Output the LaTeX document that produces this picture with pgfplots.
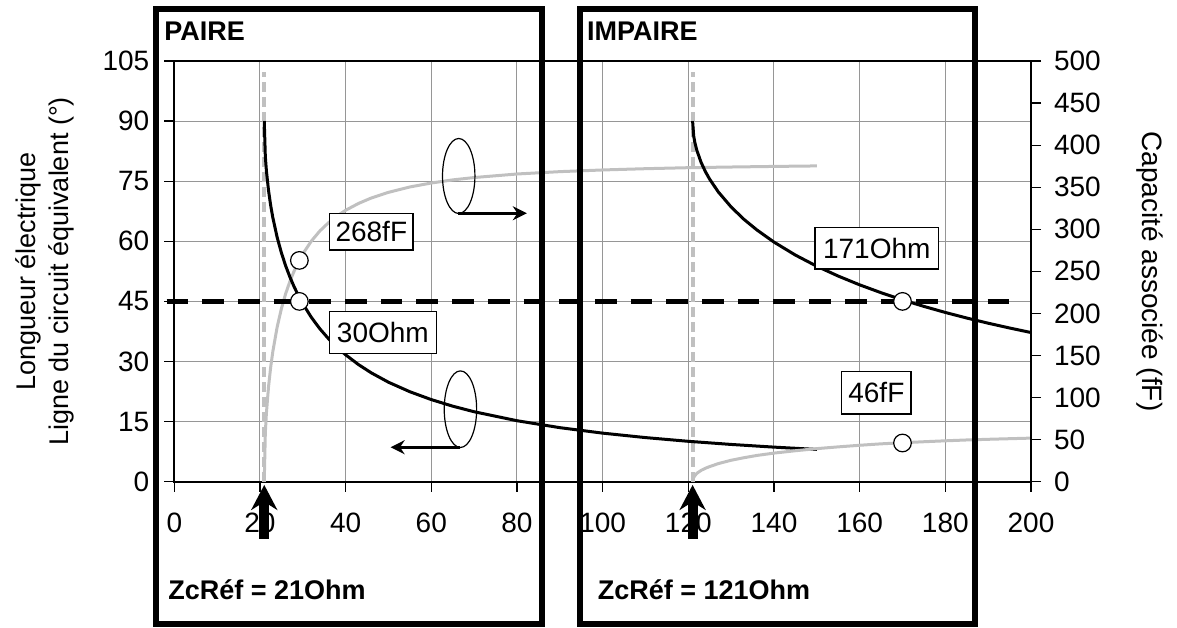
\documentclass[border=0pt]{standalone}
\usepackage{pgfplots}
\pgfplotsset{compat=1.18}
\usepackage{pgfplotstable}
\usepackage{fontspec}
\setmainfont{Liberation Sans}
\usetikzlibrary{arrows.meta}
\definecolor{lgray}{RGB}{192,192,192}
\definecolor{ggrid}{RGB}{150,150,150}

\pgfplotstableread{
Zc theta C
21 90 0
21.25 81.20 58.0
21.5 77.62 81.3
22 72.66 113.0
22.5 68.96 136.1
23 65.93 154.6
24 61.04 183.5
25 57.14 205.6
26 53.87 223.5
27 51.06 238.2
28 48.59 250.7
29 46.40 261.4
30 44.43 270.7
32 41.01 286.0
34 38.14 298.1
36 35.69 307.8
38 33.55 315.9
40 31.67 322.6
43 29.23 330.7
46 27.16 337.2
50 24.83 343.9
55 22.45 350.3
60 20.49 355.0
65 18.85 358.7
70 17.46 361.5
80 15.22 365.7
90 13.49 368.5
100 12.12 370.5
110 11.01 372.0
120 10.08 373.2
130 9.30 374.0
140 8.63 374.7
150 8.05 375.3
}\paire

\pgfplotstableread{
Zc theta C
121 90 0
121.25 86.32 5.0
121.5 84.80 7.0
122 82.66 10.0
123 79.65 13.5
124 77.37 16.0
125 75.47 18.0
127 72.32 21.5
130 68.56 25.5
133 65.47 28.5
136 62.84 31.2
140 59.80 34.0
145 56.56 36.8
150 53.77 39.3
155 51.32 41.4
160 49.13 43.3
165 47.17 45.0
170 45.38 46.3
175 43.75 47.5
180 42.24 48.6
185 40.85 49.6
190 39.56 50.4
195 38.36 51.1
200 37.23 51.8
}\impaire

\begin{document}
\begin{tikzpicture}
\begin{axis}[
  scale only axis, width=428.35pt, height=210.35pt,
  xmin=0, xmax=200, ymin=0, ymax=105,
  xtick={0,20,...,200}, ytick={0,15,...,105},
  tick pos=left, tick align=outside,
  major tick length=5pt,
  tick style={black, line width=0.6pt},
  grid=major,
  major grid style={ggrid, line width=0.5pt},
  axis line style={black, line width=0.8pt},
  clip=false,
  /pgf/number format/assume math mode=true,
  ticklabel style={font=\fontsize{14}{16}\selectfont},
  xticklabel style={yshift=-7pt},
  yticklabel style={xshift=-4pt},
  ylabel={Longueur électrique\\Ligne du circuit équivalent (°)},
  ylabel style={at={(axis description cs:-0.1515,0.5)}, anchor=center, align=center, font=\fontsize{13.5}{16.5}\selectfont},
]
\addplot[lgray, line width=2pt, dash pattern=on 5pt off 2.5pt] coordinates {(21,0) (21,102.3)};
\addplot[lgray, line width=2pt, dash pattern=on 5pt off 2.5pt] coordinates {(121,0) (121,102.3)};
\addplot[lgray, line width=1.5pt] table[x=Zc, y expr=\thisrow{C}*0.21] {\paire};
\addplot[black, line width=1.5pt] table[x=Zc, y=theta] {\paire};
\addplot[black, line width=1.5pt] table[x=Zc, y=theta] {\impaire};
\addplot[lgray, line width=1.5pt] table[x=Zc, y expr=\thisrow{C}*0.21] {\impaire};
\addplot[black, line width=2.5pt, dash pattern=on 10.85pt off 7pt] coordinates {(-1.8,45) (197.9,45)};
\addplot[only marks, mark=*, mark size=4.4pt, mark options={fill=white, draw=black, line width=0.6pt}] coordinates {(29.2,45) (170,45)};
\addplot[only marks, mark=*, mark size=4.4pt, mark options={fill=white, draw=black, line width=0.6pt}, y filter/.expression={y*0.21}] coordinates {(29.2,263) (170,46)};

\coordinate (SW) at (axis cs:0,0);
\coordinate (B1a) at (axis cs:-4.27,117.97);
\coordinate (B1b) at (axis cs:85.85,-35.5);
\coordinate (B2a) at (axis cs:94.6,117.97);
\coordinate (B2b) at (axis cs:186.95,-35.5);
\coordinate (P1) at (axis cs:-2.4,110.2);
\coordinate (P2) at (axis cs:96.3,110.2);
\coordinate (Z1) at (axis cs:-1.47,-29.3);
\coordinate (Z2) at (axis cs:98.8,-29.3);
\coordinate (U1a) at (axis cs:21,-14.3);
\coordinate (U1b) at (axis cs:21,-0.8);
\coordinate (U2a) at (axis cs:121,-14.3);
\coordinate (U2b) at (axis cs:121,-0.8);
\coordinate (E1) at (axis cs:66.4,76.3);
\coordinate (E2) at (axis cs:66.8,18.1);
\coordinate (A1a) at (axis cs:66.3,67);
\coordinate (A1b) at (axis cs:82.3,67);
\coordinate (A2a) at (axis cs:66.7,8.6);
\coordinate (A2b) at (axis cs:50.5,8.6);
\coordinate (T1) at (axis cs:46.0,62.4);
\coordinate (T2) at (axis cs:48.7,37.2);
\coordinate (T3) at (axis cs:164.0,58.25);
\coordinate (T4) at (axis cs:163.9,22.2);
\end{axis}

\begin{axis}[
  scale only axis, width=428.35pt, height=210.35pt,
  xmin=0, xmax=200, ymin=0, ymax=500,
  axis x line=none, axis y line*=right,
  ytick={0,50,...,500},
  tick align=outside, major tick length=5pt,
  tick style={black, line width=0.6pt},
  axis line style={black, line width=0.8pt},
  /pgf/number format/assume math mode=true,
  ticklabel style={font=\fontsize{14}{16}\selectfont},
  yticklabel style={xshift=3pt},
  ylabel={Capacité associée (fF)},
  ylabel style={at={(axis description cs:1.139,0.5)}, anchor=center, rotate=180, font=\fontsize{14}{16.5}\selectfont},
]
\addplot[draw=none] coordinates {(0,0) (200,500)};
\end{axis}

% annotations
\tikzset{lab/.style={draw=black, line width=0.6pt, fill=white, inner sep=0pt, font=\fontsize{14}{16}\selectfont}}
\node[lab, minimum width=41.7pt, minimum height=18.3pt] at (T1) {268fF};
\node[lab, minimum width=53.8pt, minimum height=21.2pt] at (T2) {30Ohm};
\node[lab, minimum width=61.7pt, minimum height=20.7pt] at (T3) {171Ohm};
\node[lab, minimum width=34.7pt, minimum height=21.2pt] at (T4) {46fF};

\draw[line width=0.6pt] (E1) ellipse [x radius=8.1pt, y radius=18.75pt];
\draw[line width=0.6pt] (E2) ellipse [x radius=8.1pt, y radius=19.15pt];
\draw[line width=1.5pt, -{Stealth[length=7pt, width=7pt]}] (A1a) -- (A1b);
\draw[line width=1.5pt, -{Stealth[length=7pt, width=7pt]}] (A2a) -- (A2b);

\draw[line width=5pt, -{Stealth[length=12.5pt, width=13pt]}] (U1a) -- (U1b);
\draw[line width=5pt, -{Stealth[length=12.5pt, width=13pt]}] (U2a) -- (U2b);

\draw[line width=3pt] (B1a) rectangle (B1b);
\draw[line width=3pt] (B2a) rectangle (B2b);

\node[anchor=base west, inner sep=0pt, font=\fontsize{13.5}{16}\selectfont\bfseries] at (P1) {PAIRE};
\node[anchor=base west, inner sep=0pt, font=\fontsize{13.5}{16}\selectfont\bfseries] at (P2) {IMPAIRE};
\node[anchor=base west, inner sep=0pt, font=\fontsize{13.5}{16}\selectfont\bfseries] at (Z1) {ZcRéf = 21Ohm};
\node[anchor=base west, inner sep=0pt, font=\fontsize{13.5}{16}\selectfont\bfseries] at (Z2) {ZcRéf = 121Ohm};

\pgfresetboundingbox
\path (SW) ++(-87.15pt,-72.65pt) rectangle ++(588.5pt,313.5pt);
\end{tikzpicture}
\end{document}
